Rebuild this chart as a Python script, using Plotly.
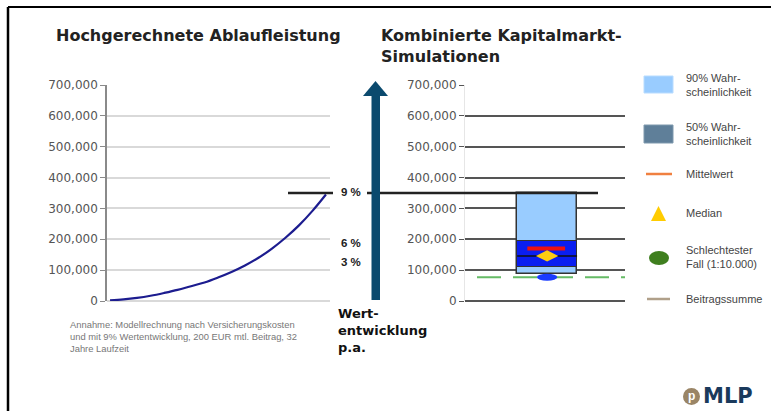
import plotly.graph_objects as go

W, H = 771, 411

# ==========================================================
# DATA
# ==========================================================

years = [0, 2, 4, 6, 8, 10, 12, 14, 16, 18, 20, 22, 24, 26, 28, 30, 32]
ablaufleistung = [2000, 5000, 10000, 17000, 26000, 36000, 48000, 60000, 76000,
                  94000, 115000, 140000, 170000, 205000, 245000, 292000, 345000]

y_ticks = [0, 100000, 200000, 300000, 400000, 500000, 600000, 700000]
y_tick_labels = ["0", "100,000", "200,000", "300,000", "400,000",
                 "500,000", "600,000", "700,000"]

band90 = [87000, 350000]      # 90% Wahrscheinlichkeit (low, high)
band50 = [111000, 194000]     # 50% Wahrscheinlichkeit (low, high)
mittelwert = 170000
median = 146000
schlechtester_fall = 77000
beitragssumme = 76800
rendite_9 = 350000

legend_labels = ["90% Wahr-<br>scheinlichkeit", "50% Wahr-<br>scheinlichkeit",
                 "Mittelwert", "Median", "Schlechtester<br>Fall (1:10.000)",
                 "Beitragssumme"]

WIDE = "DejaVu Sans, Verdana, sans-serif"
ARIAL = "Liberation Sans, Arial, sans-serif"


def px_x(x):
    return x / W


def px_y(y):
    return 1 - y / H


# ==========================================================
# FIGURE
# ==========================================================

fig = go.Figure()

# left line chart
fig.add_trace(
    go.Scatter(
        x=years,
        y=ablaufleistung,
        mode="lines",
        line=dict(color="#1c1c8f", width=2.2, shape="spline"),
        xaxis="x",
        yaxis="y",
        showlegend=False
    )
)

# right: 90% box
fig.add_trace(
    go.Bar(
        x=[0],
        y=[band90[1] - band90[0]],
        base=[band90[0]],
        width=1,
        marker=dict(color="#99ccff", line=dict(color="#333333", width=1.5)),
        xaxis="x2",
        yaxis="y2",
        showlegend=False
    )
)

# right: 50% box
fig.add_trace(
    go.Bar(
        x=[0],
        y=[band50[1] - band50[0]],
        base=[band50[0]],
        width=1,
        marker=dict(color="#0a1ef0", line=dict(color="#333333", width=1)),
        xaxis="x2",
        yaxis="y2",
        showlegend=False
    )
)

# median line
fig.add_trace(
    go.Scatter(
        x=[-0.5, 0.5],
        y=[median, median],
        mode="lines",
        line=dict(color="#111111", width=1.5),
        xaxis="x2",
        yaxis="y2",
        showlegend=False
    )
)

# mittelwert
fig.add_trace(
    go.Scatter(
        x=[-0.33, 0.3],
        y=[mittelwert, mittelwert],
        mode="lines",
        line=dict(color="#ee1111", width=4),
        xaxis="x2",
        yaxis="y2",
        showlegend=False
    )
)

# median marker
fig.add_trace(
    go.Scatter(
        x=[0],
        y=[median],
        mode="markers",
        marker=dict(symbol="diamond-wide", size=16, color="#ffcc11",
                    line=dict(width=0)),
        xaxis="x2",
        yaxis="y2",
        showlegend=False
    )
)

fig.update_layout(
    width=W,
    height=H,
    margin=dict(l=0, r=0, t=0, b=0, pad=0, autoexpand=False),
    paper_bgcolor="white",
    plot_bgcolor="white",
    font=dict(family=ARIAL, color="#333333"),
    bargap=0,
    barmode="overlay",
    xaxis=dict(
        domain=[px_x(107), px_x(330)],
        range=[-0.45, 32.6],
        visible=False,
        automargin=False
    ),
    yaxis=dict(
        domain=[px_y(301), px_y(85)],
        range=[0, 700000],
        tickvals=y_ticks,
        ticktext=y_tick_labels,
        showgrid=True,
        gridcolor="#d9d9d9",
        gridwidth=1.5,
        zeroline=True,
        zerolinecolor="#d9d9d9",
        zerolinewidth=1.5,
        showline=True,
        linecolor="#8a8a8a",
        linewidth=1.5,
        ticks="outside",
        ticklen=5,
        tickcolor="#8a8a8a",
        tickfont=dict(size=12, color="#555555", family=WIDE),
        automargin=False,
        anchor="x"
    ),
    xaxis2=dict(
        domain=[px_x(465), px_x(625)],
        range=[-1.37, 1.3],
        visible=False,
        automargin=False
    ),
    yaxis2=dict(
        domain=[px_y(301), px_y(85)],
        range=[0, 700000],
        tickvals=y_ticks,
        ticktext=y_tick_labels,
        showgrid=True,
        gridcolor="#555555",
        gridwidth=1.5,
        zeroline=True,
        zerolinecolor="#555555",
        zerolinewidth=1.5,
        showline=True,
        linecolor="#e6e6e6",
        linewidth=1,
        ticks="outside",
        ticklen=5,
        tickcolor="#555555",
        tickfont=dict(size=12, color="#555555", family=WIDE),
        automargin=False,
        anchor="x2"
    )
)

shapes = []

# frame
shapes.append(dict(type="line", xref="paper", yref="paper",
                   x0=px_x(8), x1=1, y0=px_y(7), y1=px_y(7),
                   line=dict(color="black", width=2)))
shapes.append(dict(type="line", xref="paper", yref="paper",
                   x0=px_x(8), x1=px_x(8), y0=px_y(7), y1=0,
                   line=dict(color="black", width=2.5)))

# beitragssumme dashed line
shapes.append(dict(type="line", xref="paper", yref="y2",
                   x0=px_x(477), x1=px_x(625),
                   y0=beitragssumme, y1=beitragssumme,
                   line=dict(color="#66bb66", width=2, dash="24px,12px"),
                   layer="below"))

# worst case ellipse
shapes.append(dict(type="circle", xref="x2", yref="y2",
                   x0=-0.17, x1=0.17,
                   y0=schlechtester_fall - 11000, y1=schlechtester_fall + 11000,
                   fillcolor="#1a3cff", line=dict(width=0)))

# 9% line
shapes.append(dict(type="line", xref="paper", yref="y",
                   x0=px_x(288), x1=px_x(333), y0=rendite_9, y1=rendite_9,
                   line=dict(color="#222222", width=2.5)))
shapes.append(dict(type="line", xref="paper", yref="y",
                   x0=px_x(367), x1=px_x(598), y0=rendite_9, y1=rendite_9,
                   line=dict(color="#222222", width=2.5)))

# arrow
arrow_col = "#0b4a6e"
shapes.append(dict(type="rect", xref="paper", yref="paper",
                   x0=px_x(371.5), x1=px_x(380), y0=px_y(300), y1=px_y(93),
                   fillcolor=arrow_col, line=dict(width=0)))
shapes.append(dict(
    type="path", xref="paper", yref="paper",
    path="M {} {} L {} {} L {} {} Z".format(
        px_x(363), px_y(96), px_x(375.5), px_y(81), px_x(388), px_y(96)),
    fillcolor=arrow_col, line=dict(width=0)))

# legend symbols
shapes.append(dict(type="rect", xref="paper", yref="paper",
                   x0=px_x(644), x1=px_x(673), y0=px_y(93), y1=px_y(76),
                   fillcolor="#99ccff", line=dict(color="#b8dcff", width=1)))
shapes.append(dict(type="rect", xref="paper", yref="paper",
                   x0=px_x(644), x1=px_x(673), y0=px_y(143), y1=px_y(125),
                   fillcolor="#5f7f99", line=dict(color="#7f99ad", width=1)))
shapes.append(dict(type="line", xref="paper", yref="paper",
                   x0=px_x(646), x1=px_x(672), y0=px_y(174), y1=px_y(174),
                   line=dict(color="#f08040", width=2.5)))
shapes.append(dict(type="path", xref="paper", yref="paper",
                   path="M {} {} L {} {} L {} {} Z".format(
                       px_x(651), px_y(221), px_x(658.5), px_y(206),
                       px_x(666), px_y(221)),
                   fillcolor="#ffcc00", line=dict(width=0)))
shapes.append(dict(type="circle", xref="paper", yref="paper",
                   x0=px_x(649), x1=px_x(669), y0=px_y(265), y1=px_y(251),
                   fillcolor="#3f7f1f", line=dict(width=0)))
shapes.append(dict(type="line", xref="paper", yref="paper",
                   x0=px_x(647), x1=px_x(670), y0=px_y(299), y1=px_y(299),
                   line=dict(color="#b0a08a", width=2.5)))

# MLP logo circle
shapes.append(dict(type="circle", xref="paper", yref="paper",
                   x0=px_x(683), x1=px_x(700), y0=px_y(405), y1=px_y(388),
                   fillcolor="#9a8566", line=dict(width=0)))

fig.update_layout(shapes=shapes)

annotations = []


def text(x, y, s, size, color="#222222", bold=False, family=ARIAL,
         xanchor="left", yanchor="middle", align="left"):
    if bold:
        s = "<b>" + s + "</b>"
    annotations.append(dict(
        xref="paper", yref="paper", x=px_x(x), y=px_y(y), text=s,
        showarrow=False, xanchor=xanchor, yanchor=yanchor, align=align,
        font=dict(size=size, color=color, family=family)))


text(54, 35, "Hochgerechnete Ablaufleistung", 16, bold=True, family=WIDE)
text(379, 46, "Kombinierte Kapitalmarkt-<br>Simulationen", 16, bold=True,
     family=WIDE)

text(339, 192, "9 %", 11.5, bold=True)
text(339, 243, "6 %", 11.5, bold=True)
text(339, 262, "3 %", 11.5, bold=True)

text(336, 330, "Wert-<br>entwicklung<br>p.a.", 13, color="#111111", bold=True,
     family=WIDE)

text(68, 336, "Annahme: Modellrechnung nach Versicherungskosten<br>"
     "und mit 9% Wertentwicklung, 200 EUR mtl. Beitrag, 32<br>"
     "Jahre Laufzeit", 9.4, color="#777777")

legend_y = [85, 134, 174, 213, 257, 299]
for ly, lab in zip(legend_y, legend_labels):
    text(684, ly, lab, 11, color="#444444")

text(691.5, 396, "p", 12, color="white", bold=True, xanchor="center")
text(701, 396, "MLP", 21, color="#1a3a5c", bold=True, family=WIDE)

fig.update_layout(annotations=annotations)

page_css = (
    "document.documentElement.style.margin='0px';"
    "document.documentElement.style.overflow='hidden';"
    "document.body.style.margin='0px';"
    "document.body.style.overflow='hidden';"
)

fig.write_html(
    "out.html",
    config={"displayModeBar": False},
    post_script=page_css
)
